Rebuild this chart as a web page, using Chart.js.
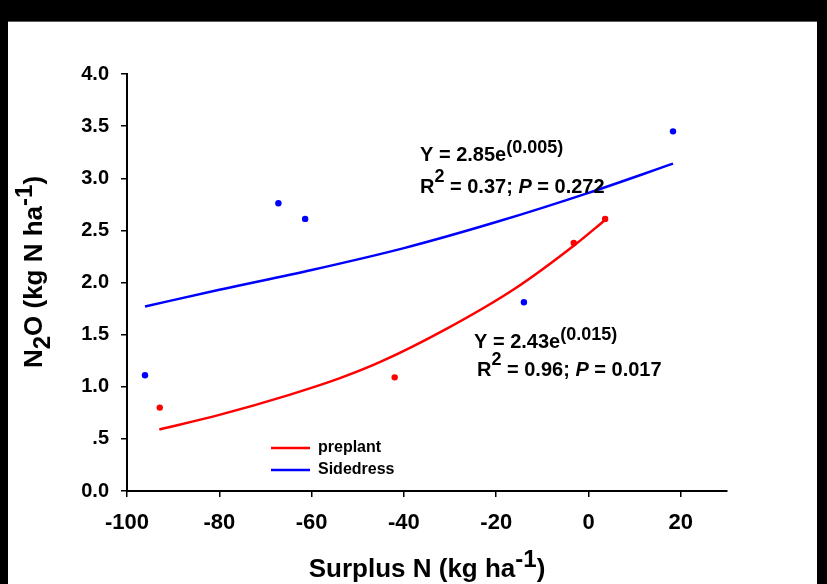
<!DOCTYPE html>
<html><head><meta charset="utf-8">
<script src="https://cdn.jsdelivr.net/npm/chart.js@4.4.1/dist/chart.umd.min.js"></script>
<style>
html,body{margin:0;padding:0;width:827px;height:584px;overflow:hidden;background:#000;}
#paper{position:absolute;left:8px;top:21px;width:809px;height:563px;background:#fff;border-top:1px solid #5a5a5a;}
#wrap{position:absolute;left:0;top:0;width:827px;height:584px;}
</style></head><body>
<div id="paper"></div>
<div id="wrap"><canvas id="c" width="827" height="584"></canvas></div>
<script>
// ---- data ----
const preplantX = [-92.9, -42.0, -3.2, 3.6];
const preplantY = [0.80, 1.09, 2.38, 2.61];
const sidedressX = [-96.1, -67.2, -61.4, -14.0, 18.3];
const sidedressY = [1.11, 2.76, 2.61, 1.81, 3.45];
// fitted exponential curves
const preplantFitX = [-93, -80, -65, -54, -45, -31, -16, -3, 3.6];
const preplantFitY = [0.59, 0.73, 0.92, 1.08, 1.24, 1.55, 1.94, 2.36, 2.60];
const sidedressFitX = [-96.1, -80, -60, -40, -20, 0, 18.3];
const sidedressFitY = [1.77, 1.93, 2.12, 2.33, 2.58, 2.86, 3.14];
const seriesNames = ['preplant', 'Sidedress'];
const xTicks = [-100, -80, -60, -40, -20, 0, 20];
const xTickLabels = ['-100', '-80', '-60', '-40', '-20', '0', '20'];
const yTicks = [0, 0.5, 1, 1.5, 2, 2.5, 3, 3.5, 4];
const yTickLabels = ['0.0', '.5', '1.0', '1.5', '2.0', '2.5', '3.0', '3.5', '4.0'];

const FAMILY = '"Liberation Sans", Arial, Helvetica, sans-serif';
const RED = '#ff0000', BLUE = '#0000ff';
const pts = (xs, ys) => xs.map((x, i) => ({x, y: ys[i]}));

// rich text segments (sub/superscripts)
const yTitle = [{t:'N'},{t:'2',sub:true},{t:'O (kg N ha'},{t:'-1',sup:true},{t:')'}];
const xTitle = [{t:'Surplus N (kg ha'},{t:'-1',sup:true},{t:')'}];
const eqBlue = [[{t:'Y = 2.85e'},{t:'(0.005)',sup:true}],
                [{t:'R'},{t:'2',sup:true,big:true},{t:' = 0.37; '},{t:'P',it:true},{t:' = 0.272'}]];
const eqRed  = [[{t:'Y = 2.43e'},{t:'(0.015)',sup:true}],
                [{t:'R'},{t:'2',sup:true,big:true},{t:' = 0.96; '},{t:'P',it:true},{t:' = 0.017'}]];

function segFont(p, size){
  const fs = (p.sup || p.sub) ? Math.round(size * 0.92) : size;
  return {font: (p.it ? 'italic ' : '') + 'bold ' + fs + 'px ' + FAMILY, fs};
}
function richWidth(ctx, parts, size){
  let w = 0;
  for (const p of parts){ ctx.font = segFont(p, size).font; w += ctx.measureText(p.t).width; }
  return w;
}
function drawRich(ctx, x, y, parts, size){
  let cx = x;
  ctx.textBaseline = 'alphabetic';
  ctx.textAlign = 'left';
  for (const p of parts){
    const f = segFont(p, size);
    ctx.font = f.font;
    const dy = p.sup ? -size * (p.big ? 0.55 : 0.4) : p.sub ? size * 0.3 : 0;
    ctx.fillText(p.t, cx, y + dy);
    cx += ctx.measureText(p.t).width;
  }
}

const overlay = {
  id: 'overlay',
  afterDraw(chart){
    const ctx = chart.ctx;
    const ca = chart.chartArea;
    ctx.save();
    ctx.fillStyle = '#000';
    // y axis title (rotated)
    ctx.save();
    ctx.translate(42, 272);
    ctx.rotate(-Math.PI / 2);
    const wy = richWidth(ctx, yTitle, 26);
    drawRich(ctx, -wy / 2, 0, yTitle, 26);
    ctx.restore();
    // x axis title
    const wx = richWidth(ctx, xTitle, 26);
    drawRich(ctx, (ca.left + ca.right) / 2 - wx / 2, 577, xTitle, 26);
    // equations
    drawRich(ctx, 420, 161, eqBlue[0], 20);
    drawRich(ctx, 420, 193, eqBlue[1], 20);
    drawRich(ctx, 474, 348, eqRed[0], 20);
    drawRich(ctx, 477, 376, eqRed[1], 20);
    // legend (line series only)
    const legendItems = [[seriesNames[0], RED, 448], [seriesNames[1], BLUE, 470]];
    for (const [label, col, ly] of legendItems){
      ctx.strokeStyle = col; ctx.lineWidth = 2.5;
      ctx.beginPath(); ctx.moveTo(271, ly); ctx.lineTo(310, ly); ctx.stroke();
      ctx.fillStyle = '#000';
      ctx.font = 'bold 16px ' + FAMILY;
      ctx.textBaseline = 'middle'; ctx.textAlign = 'left';
      ctx.fillText(label, 318, ly);
    }
    ctx.restore();
  }
};

new Chart(document.getElementById('c'), {
  type: 'scatter',
  data: {
    datasets: [
      {label: seriesNames[0] + ' fit', data: pts(preplantFitX, preplantFitY), showLine: true,
       borderColor: RED, borderWidth: 2.5, pointRadius: 0, cubicInterpolationMode: 'monotone', fill: false},
      {label: seriesNames[1] + ' fit', data: pts(sidedressFitX, sidedressFitY), showLine: true,
       borderColor: BLUE, borderWidth: 2.5, pointRadius: 0, cubicInterpolationMode: 'monotone', fill: false},
      {label: seriesNames[0], data: pts(preplantX, preplantY), backgroundColor: RED, borderWidth: 0, pointRadius: 3.2},
      {label: seriesNames[1], data: pts(sidedressX, sidedressY), backgroundColor: BLUE, borderWidth: 0, pointRadius: 3.2}
    ]
  },
  options: {
    responsive: false,
    animation: false,
    devicePixelRatio: 1,
    layout: {padding: {top: 74, right: 100, left: 0, bottom: 0}},
    plugins: {legend: {display: false}, tooltip: {enabled: false}},
    scales: {
      x: {
        type: 'linear', min: -100, max: 30,
        afterBuildTicks: s => { s.ticks = xTicks.map(v => ({value: v})); },
        afterFit: s => { s.height = 93; },
        ticks: {
          callback: (v) => xTickLabels[xTicks.indexOf(v)],
          color: '#000', padding: 13, maxRotation: 0, autoSkip: false,
          font: {family: FAMILY, size: 22, weight: 'bold'}
        },
        grid: {display: true, drawOnChartArea: false, drawTicks: true, tickLength: 6, color: '#000', lineWidth: 1.5},
        border: {display: true, color: '#000', width: 2},
        title: {display: false}
      },
      y: {
        type: 'linear', min: 0, max: 4,
        afterBuildTicks: s => { s.ticks = yTicks.map(v => ({value: v})); },
        afterFit: s => { s.width = 127; },
        ticks: {
          callback: (v) => yTickLabels[yTicks.indexOf(v)],
          color: '#000', padding: 12, autoSkip: false,
          font: {family: FAMILY, size: 20, weight: 'bold'}
        },
        grid: {display: true, drawOnChartArea: false, drawTicks: true, tickLength: 6, color: '#000', lineWidth: 1.5},
        border: {display: true, color: '#000', width: 2},
        title: {display: false}
      }
    }
  },
  plugins: [overlay]
});
</script>
</body></html>
